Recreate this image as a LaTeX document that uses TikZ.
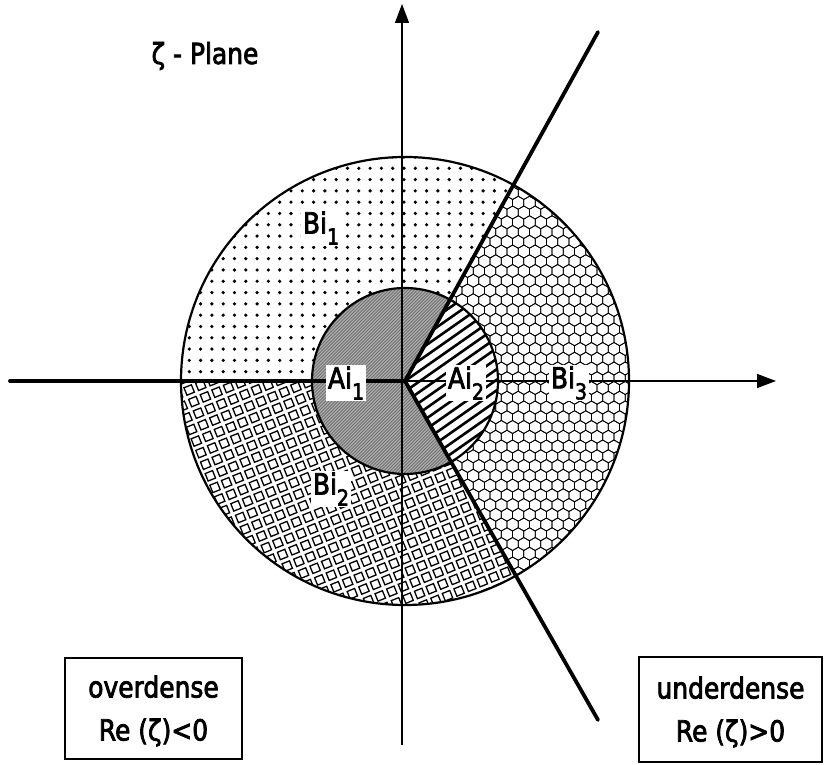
\documentclass[tikz,border=0pt]{standalone}
\usepackage{fontspec}
\setmainfont[FakeStretch=0.86,FakeBold=2.6]{DejaVu Sans}
\usetikzlibrary{arrows.meta}
\newcommand\lbsub[2]{#1\raisebox{-0.38em}{\fontsize{22}{22}\selectfont #2}}
\begin{document}
\begin{tikzpicture}[x=1pt,y=1pt,
  lab/.style={fill=white,inner sep=1.5pt,font=\fontsize{29}{29}\selectfont},
  boxtxt/.style={font=\fontsize{29}{43}\selectfont,align=center},
  framebox/.style={draw,line width=1.8pt},
  axis/.style={line width=1.3pt,-{Triangle[length=19pt,width=14pt]}},
  ray/.style={line width=3.8pt},
  rim/.style={line width=2.2pt},
  hex/.style={line width=0.75pt},
  sq/.style={line width=1.3pt},
]
\useasboundingbox (0,0) rectangle (824,765);
\coordinate (O) at (405,384);

% ---------- Bi1 : dots ----------
\begin{scope}
\clip (405,384) -- ++(61:224) arc[start angle=61,end angle=180,radius=224] -- cycle;
\foreach \i in {0,...,31}{
  \foreach \j in {0,...,20}{
    \fill (178+\i*11.3,382+\j*11.3) circle[radius=1.8];
  }
}
\end{scope}

% ---------- Bi2 : small squares ----------
\begin{scope}
\clip (405,384) -- ++(180:224) arc[start angle=180,end angle=300,radius=224] -- cycle;
\begin{scope}[rotate around={22:(405,384)}]
\foreach \i in {0,...,25}{
  \foreach \j in {0,...,28}{
    \draw[sq] (160+\i*12.5,140+\j*12.5) rectangle ++(8,8);
  }
}
\end{scope}
\end{scope}

% ---------- Bi3 : honeycomb ----------
\begin{scope}
\clip (405,384) -- ++(-60:224) arc[start angle=-60,end angle=61,radius=224] -- cycle;
\foreach \r in {0,...,42}{
  \foreach \c in {0,...,21}{
    \pgfmathsetmacro\cx{400+\c*11.26+mod(\r,2)*5.63}
    \pgfmathsetmacro\cy{182+\r*9.75}
    \draw[hex] (\cx,\cy+6.5) -- ++(-30:6.5) -- ++(-90:6.5) -- ++(-150:6.5) -- ++(150:6.5) -- ++(90:6.5) -- cycle;
  }
}
\end{scope}

% ---------- Ai1 : grey with fine lines ----------
\begin{scope}
\clip (405,384) -- ++(61:93) arc[start angle=61,end angle=300,radius=93] -- cycle;
\fill[gray!65] (300,280) rectangle (510,490);
\foreach \k in {-300,-296.8,...,100}{
  \draw[black!55,line width=0.9pt] (405+\k,284) -- ++(200,200);
}
\end{scope}

% ---------- Ai2 : bold hatching ----------
\begin{scope}
\clip (405,384) -- ++(-60:93) arc[start angle=-60,end angle=61,radius=93] -- cycle;
\fill[white] (300,280) rectangle (510,490);
\begin{scope}[rotate around={35:(405,384)}]
\foreach \k in {-13,...,13}{
  \draw[line width=2.6pt] (285,384+\k*8.6) -- ++(240,0);
}
\end{scope}
\end{scope}

% ---------- circles ----------
\draw[rim] (O) circle[radius=224];
\draw[rim] (O) circle[radius=93];

% ---------- axes ----------
\coordinate (xs) at (10,384);
\coordinate (xe) at (776,384);
\coordinate (ys) at (402,20);
\coordinate (ye) at (402,761);
\draw[axis] (xs) -- (xe);
\draw[axis] (ys) -- (ye);

% ---------- thick rays ----------
\coordinate (ru) at (598,733);
\coordinate (rd) at (598,45);
\coordinate (rl) at (10,384);
\draw[ray,line cap=round] (O) -- (ru);
\draw[ray,line cap=round] (O) -- (rd);
\draw[ray,line cap=round] (O) -- (rl);

% ---------- labels ----------
\node[lab] (bi1) at (321,537) {\lbsub{Bi}{1}};
\node[lab] (bi2) at (331,276) {\lbsub{Bi}{2}};
\node[lab] (bi3) at (569,382) {\lbsub{Bi}{3}};
\node[lab] (ai1) at (346,382) {\lbsub{Ai}{1}};
\node[lab] (ai2) at (466,382) {\lbsub{Ai}{2}};
\node[font=\fontsize{29}{29}\selectfont] (title) at (205,709) {ζ - Plane};

% ---------- boxes ----------
\draw[framebox] (65,107) rectangle (242,6);
\node[boxtxt] (over) at (153.5,54) {overdense\\Re (ζ)<0};
\draw[framebox] (639,108) rectangle (822,3);
\node[boxtxt] (under) at (730.5,53) {underdense\\Re (ζ)>0};
\end{tikzpicture}
\end{document}
